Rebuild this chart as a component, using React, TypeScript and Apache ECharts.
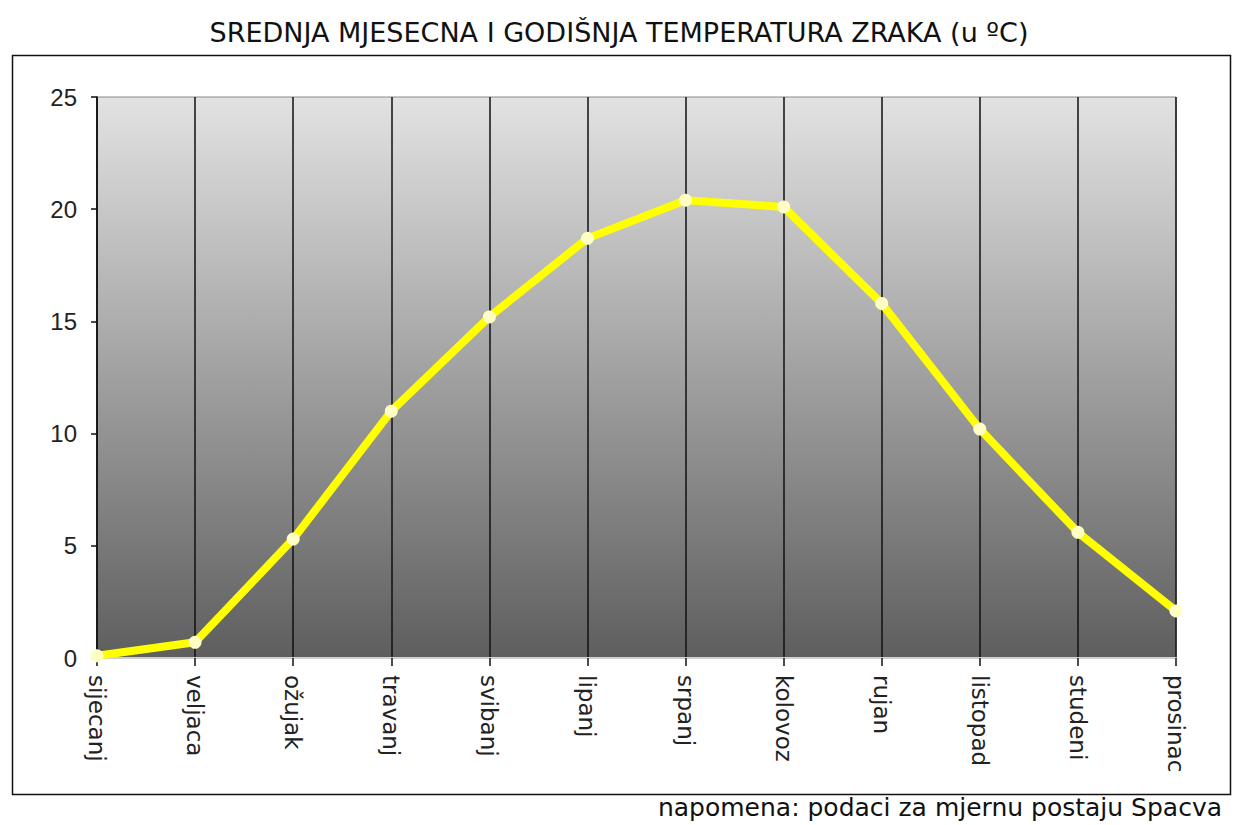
import React, { useEffect, useRef } from "react";
import * as echarts from "echarts";

const months = [
  "sijecanj", "veljaca", "ožujak", "travanj", "svibanj", "lipanj",
  "srpanj", "kolovoz", "rujan", "listopad", "studeni", "prosinac",
];
const temperatures = [0.1, 0.7, 5.3, 11.0, 15.2, 18.7, 20.4, 20.1, 15.8, 10.2, 5.6, 2.1];
const titleText = "SREDNJA MJESECNA I GODIŠNJA TEMPERATURA ZRAKA (u ºC)";
const noteText = "napomena: podaci za mjernu postaju Spacva";

const FONT = "DejaVu Sans";

export default function App() {
  const ref = useRef<HTMLDivElement>(null);
  useEffect(() => {
    if (!ref.current) return;
    const chart = echarts.init(ref.current, undefined, { renderer: "svg" });
    chart.setOption({
      animation: false,
      backgroundColor: "#ffffff",
      title: {
        text: titleText,
        left: "center",
        top: 14,
        textStyle: { fontFamily: FONT, fontSize: 27, fontWeight: "normal", color: "#111" },
      },
      graphic: [
        {
          type: "rect",
          left: 10,
          top: 53,
          shape: { width: 1218, height: 739 },
          style: { fill: "none", stroke: "#111", lineWidth: 1.5 },
          silent: true,
        },
        {
          type: "text",
          right: 16,
          top: 795,
          style: { text: noteText, font: `25px "${FONT}"`, fill: "#111" },
        },
      ],
      grid: {
        left: 97,
        right: 62,
        top: 97,
        bottom: 167,
        show: true,
        borderColor: "#8a8a8a",
        borderWidth: 1,
        backgroundColor: {
          type: "linear",
          x: 0, y: 0, x2: 0, y2: 1,
          colorStops: [
            { offset: 0, color: "#e2e2e2" },
            { offset: 1, color: "#5e5e5e" },
          ],
        },
      },
      xAxis: {
        type: "category",
        data: months,
        boundaryGap: false,
        axisLine: { show: true, lineStyle: { color: "#d0d0d0", width: 2 } },
        axisTick: { show: true, length: 8, lineStyle: { color: "#111", width: 1.5 } },
        splitLine: { show: true, lineStyle: { color: "#111", width: 1.5 } },
        axisLabel: {
          rotate: -90,
          margin: 17,
          fontFamily: FONT,
          fontSize: 23,
          color: "#222",
        },
      },
      yAxis: {
        type: "value",
        min: 0,
        max: 25,
        interval: 5,
        axisLine: { show: true, lineStyle: { color: "#111", width: 1.5 } },
        axisTick: { show: true, length: 6, lineStyle: { color: "#111", width: 1.5 } },
        splitLine: { show: false },
        axisLabel: { fontFamily: "Liberation Sans", fontSize: 24, color: "#222", margin: 20 },
      },
      series: [
        {
          type: "line",
          data: temperatures,
          symbol: "circle",
          symbolSize: 13,
          lineStyle: { color: "#ffff00", width: 8 },
          itemStyle: { color: "#ffffc4", borderWidth: 0 },
          z: 5,
        },
      ],
    });
    return () => chart.dispose();
  }, []);
  return (
    <div
      ref={ref}
      style={{ position: "fixed", left: 0, top: 0, width: 1238, height: 825 }}
    />
  );
}
